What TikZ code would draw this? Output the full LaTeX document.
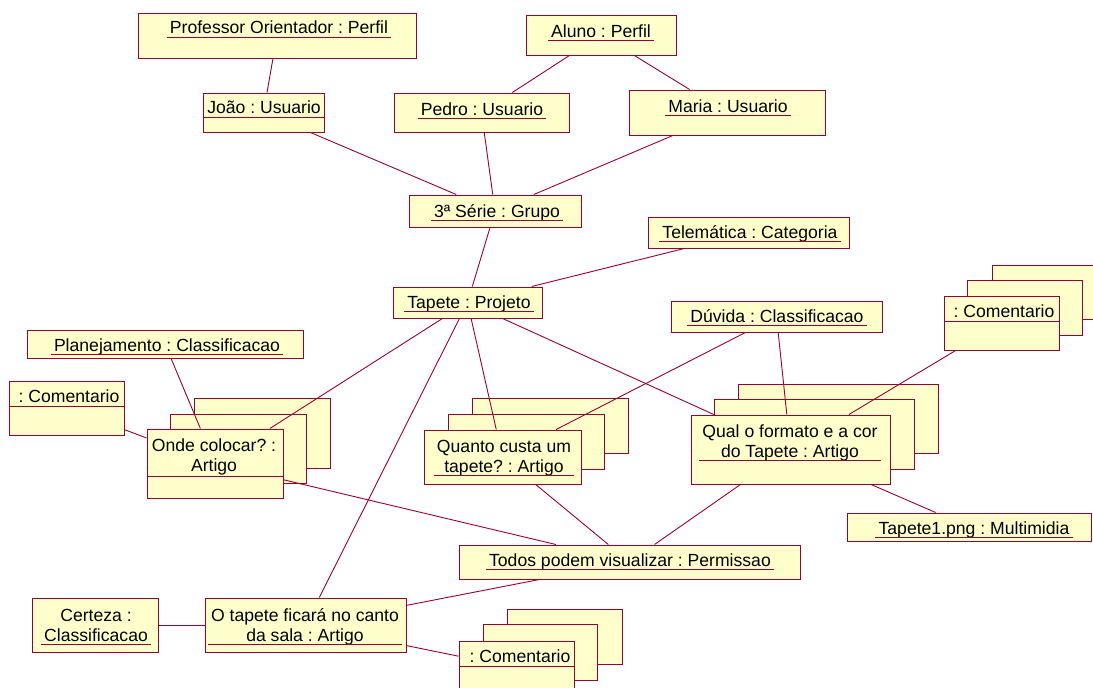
\documentclass[tikz,border=0pt]{standalone}
\usepackage{fontspec}
\setmainfont{Liberation Sans}
\definecolor{umlred}{HTML}{990033}
\definecolor{umlfill}{HTML}{FFFFCC}
\tikzset{
  obj/.style={draw=umlred, fill=umlfill, line width=1pt, inner sep=0pt, rectangle},
  lbl/.style={font=\fontsize{17.6}{20}\selectfont\frenchspacing, inner sep=0pt, inner xsep=3pt, anchor=base, text=black},
  link/.style={draw=umlred, line width=0.9pt},
  uline/.style={draw=umlred, line width=1pt},
}
% object box given by its corners
\newcommand\objbox[5]{\node[obj, minimum width={(#4-#2)*1pt}, minimum height={(#5-#3)*1pt}] (#1) at ({(#2+#4)/2},{(#3+#5)/2}) {};}
% object name, underlined
\newcommand\objname[4]{\node[lbl] (#1) at (#2,#3) {#4};
  \draw[uline] ([yshift=-3pt]#1.base west) -- ([yshift=-3pt]#1.base east);}
% object name, followed by a compartment line across the box
\newcommand\objhead[4]{\node[lbl] (#1) at (#2,#3) {#4};}
\newcommand\compline[3]{\draw[uline] (#1,#3) -- (#2,#3);}
\newcommand\twolines[2]{\begin{tabular}[b]{@{}c@{}}#1\\#2\end{tabular}}

\begin{document}
\begin{tikzpicture}[x=1pt, y=-1pt]
\clip (0,0) rectangle (1093,688);
\fill[white] (0,0) rectangle (1093,688);

% ---- boxes ----
\objbox{prof}{138}{13}{416}{58}
\objbox{joao}{203}{93}{324}{132}
\objbox{aluno}{526}{15}{676}{55}
\objbox{pedro}{394}{93}{569}{132}
\objbox{maria}{629}{90}{825}{135}
\objbox{serie}{409}{195}{581}{227}
\objbox{telem}{648}{217}{849}{248}
\objbox{tapete}{393}{287}{542}{318}
\objbox{duvida}{671}{301}{882}{332}
\objbox{plan}{27}{330}{303}{358}
\objbox{comL}{9}{381}{124}{435}
\objbox{ondeC}{194}{398}{330}{468}
\objbox{ondeB}{170}{414}{306}{483}
\objbox{onde}{147}{429}{283}{498}
\objbox{quantoC}{472}{398}{628}{453}
\objbox{quantoB}{448}{414}{604}{469}
\objbox{quanto}{424}{430}{581}{484}
\objbox{qualC}{738}{384}{938}{453}
\objbox{qualB}{714}{399}{914}{469}
\objbox{qual}{691}{415}{890}{484}
\objbox{comRC}{992}{265}{1107}{319}
\objbox{comRB}{967}{280}{1082}{335}
\objbox{comR}{944}{296}{1059}{350}
\objbox{tap1}{847}{513}{1091}{541}
\objbox{todos}{459}{545}{800}{579}
\objbox{certeza}{32}{598}{158}{652}
\objbox{otap}{205}{598}{406}{652}
\objbox{comBC}{507}{609}{622}{664}
\objbox{comBB}{483}{624}{597}{680}
\objbox{comB}{459}{641}{574}{695}

% ---- names ----
\objname{profT}{279}{34}{Professor Orientador : Perfil}
\objhead{joaoT}{264}{113}{João : Usuario}
\compline{203}{324}{117}
\objname{alunoT}{601}{37}{Aluno : Perfil}
\objname{pedroT}{482}{115}{Pedro : Usuario}
\objname{mariaT}{728}{112}{Maria : Usuario}
\objname{serieT}{497}{217}{3ª Série : Grupo}
\objname{telemT}{750}{238}{Telemática : Categoria}
\objname{tapeteT}{469}{308}{Tapete : Projeto}
\objname{duvidaT}{777}{322}{Dúvida : Classificacao}
\objname{planT}{167}{351}{Planejamento : Classificacao}
\objhead{comLT}{69}{402}{: Comentario}
\compline{9}{124}{406}
\objhead{ondeT}{214}{471}{\twolines{Onde colocar? :}{Artigo}}
\compline{147}{283}{476}
\objname{quantoT}{504}{472}{\twolines{Quanto custa um}{tapete? : Artigo}}
\objname{qualT}{790}{457}{\twolines{Qual o formato e a cor}{do Tapete : Artigo}}
\objhead{comRT}{1004}{317}{: Comentario}
\compline{944}{1059}{321}
\objname{tap1T}{974}{534}{Tapete1.png : Multimidia}
\objname{todosT}{630}{566}{Todos podem visualizar : Permissao}
\objname{certezaT}{96}{641}{\twolines{Certeza :}{Classificacao}}
\objname{otapT}{305}{641}{\twolines{O tapete ficará no canto}{da sala : Artigo}}
\objhead{comBT}{520}{662}{: Comentario}
\compline{459}{574}{666}

% ---- links ----
\draw[link] (prof) -- (joao);
\draw[link] (aluno) -- (pedro);
\draw[link] (aluno) -- (maria);
\draw[link] (joao) -- (serie);
\draw[link] (pedro) -- (serie);
\draw[link] (maria) -- (serie);
\draw[link] (serie) -- (tapete);
\draw[link] (telem) -- (tapete);
\draw[link] (tapete) -- (onde);
\draw[link] (tapete) -- (otap);
\draw[link] (tapete) -- (quanto);
\draw[link] (tapete) -- (qual);
\draw[link] (duvida) -- (quanto);
\draw[link] (duvida) -- (qual);
\draw[link] (comR) -- (qual);
\draw[link] (qual) -- (todos);
\draw[link] (qual) -- (tap1);
\draw[link] (quanto) -- (todos);
\draw[link] (onde) -- (todos);
\draw[link] (comL) -- (onde);
\draw[link] (plan) -- (onde);
\draw[link] (otap) -- (todos);
\draw[link] (certeza) -- (otap);
\draw[link] (otap) -- (comB);
\end{tikzpicture}
\end{document}
